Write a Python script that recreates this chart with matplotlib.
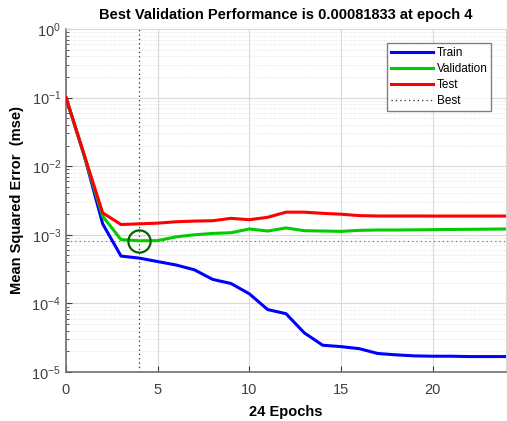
import matplotlib
matplotlib.use("Agg")
import matplotlib.pyplot as plt
import numpy as np
from matplotlib.ticker import LogLocator, FixedLocator, NullFormatter

plt.rcParams['font.family'] = ['Liberation Sans', 'DejaVu Sans']

epochs = list(range(0, 25))
train_log = [-1.0, -1.85, -2.84, -3.31, -3.34, -3.39, -3.44, -3.51, -3.65, -3.71,
             -3.86, -4.09, -4.15, -4.43, -4.61, -4.63, -4.66, -4.73, -4.75, -4.765,
             -4.77, -4.77, -4.775, -4.775, -4.775]
val_log = [-1.0, -1.85, -2.73, -3.07, -3.087, -3.085, -3.03, -3.0, -2.98, -2.97,
           -2.915, -2.945, -2.90, -2.94, -2.945, -2.95, -2.935, -2.93, -2.93, -2.928,
           -2.925, -2.922, -2.92, -2.918, -2.915]
test_log = [-1.0, -1.84, -2.68, -2.85, -2.84, -2.83, -2.81, -2.80, -2.795, -2.76,
            -2.78, -2.745, -2.67, -2.67, -2.687, -2.70, -2.72, -2.726, -2.726, -2.726,
            -2.727, -2.727, -2.727, -2.727, -2.727]
train = [10 ** v for v in train_log]
validation = [10 ** v for v in val_log]
test = [10 ** v for v in test_log]
best_epoch = 4
best_value = 0.00081833

fig = plt.figure(figsize=(5.07, 4.21), dpi=100)
ax = fig.add_axes([66 / 507, 1 - 372 / 421, 440 / 507, 343 / 421])

ax.semilogy(epochs, train, color=(0, 0, 1), lw=2.2, label='Train', zorder=3)
ax.semilogy(epochs, validation, color=(0, 0.8, 0), lw=2.2, label='Validation', zorder=3)
ax.semilogy(epochs, test, color=(1, 0, 0), lw=2.2, label='Test', zorder=3)
ax.axvline(best_epoch, color='#1a3a1a', ls=(0, (1, 2.5)), lw=0.9, label='Best', zorder=2)
ax.axhline(best_value, color='#777777', ls=(0, (1, 2.5)), lw=0.9, zorder=2)
ax.plot([best_epoch], [best_value], 'o', ms=16, mfc='none', mec=(0, 0.4, 0), mew=1.6, zorder=4)

ax.set_xlim(0, 24)
ax.set_ylim(1e-5, 1e0)
ax.xaxis.set_major_locator(FixedLocator([0, 5, 10, 15, 20]))
ax.yaxis.set_major_locator(LogLocator(base=10, numticks=10))
ax.yaxis.set_minor_locator(LogLocator(base=10, subs=np.arange(2, 10), numticks=20))
ax.yaxis.set_minor_formatter(NullFormatter())

ax.grid(True, which='major', color='#dadada', lw=0.8, ls='-')
ax.grid(True, which='minor', axis='y', color='#d8d8d8', lw=0.6, ls=(0, (1, 2)))
ax.set_axisbelow(True)

for s in ['left', 'bottom']:
    ax.spines[s].set_color('#707070')
    ax.spines[s].set_linewidth(1.2)
for s in ['top', 'right']:
    ax.spines[s].set_color('#d8d8d8')
    ax.spines[s].set_linewidth(0.8)

ax.tick_params(which='both', direction='in', colors='#404040', labelsize=10.5, length=4)
ax.tick_params(which='minor', length=2)
ax.tick_params(axis='x', pad=8)

ax.set_title('Best Validation Performance is 0.00081833 at epoch 4', fontsize=10.5,
             fontweight='bold', pad=7)
ax.set_xlabel('24 Epochs', fontsize=10.5, fontweight='bold', labelpad=6)
ax.set_ylabel('Mean Squared Error  (mse)', fontsize=10.5, fontweight='bold', labelpad=5)

leg = ax.legend(loc='upper right', bbox_to_anchor=(0.98, 0.975), fontsize=8.5,
                handlelength=3.6, frameon=True, fancybox=False, borderpad=0.3,
                labelspacing=0.35, handletextpad=0.3)
leg.get_frame().set_edgecolor('#606060')
leg.get_frame().set_linewidth(1.0)

fig.savefig('out.png', dpi=100)
